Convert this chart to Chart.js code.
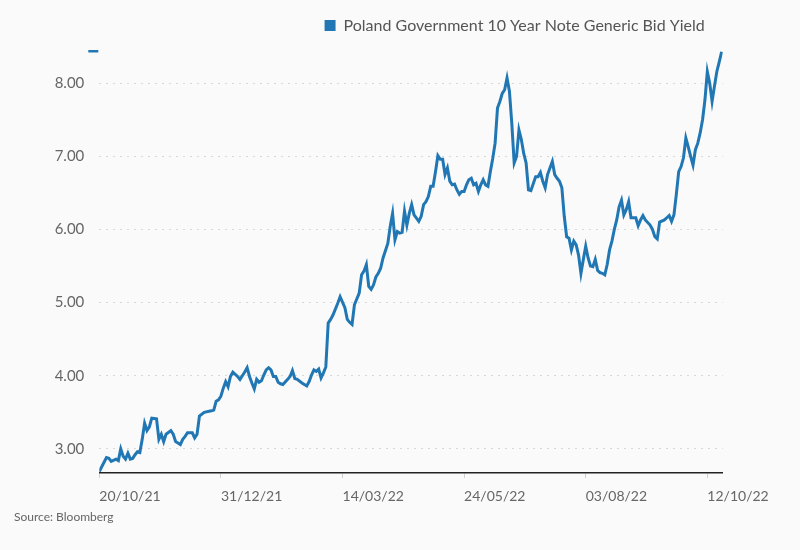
<!DOCTYPE html>
<html>
<head>
<meta charset="utf-8">
<script src="https://cdn.jsdelivr.net/npm/chart.js@4.4.0/dist/chart.umd.min.js"></script>
<style>
html,body{margin:0;padding:0;background:#fafafa;}
#wrap{width:800px;height:550px;position:relative;}
</style>
</head>
<body>
<div id="wrap"><canvas id="c"></canvas></div>
<script>
// Trading-day index (from 20/10/21) and yield values
const xIdx = [0,3,4,5,7,8,9,10,11,12,13,14,15,16,17,18,19,20,21,22,24,25,26,27,28,30,31,32,34,35,36,37,39,40,41,42,44,47,48,49,50,51,52,53,54,55,56,58,59,61,62,63,64,65,66,67,68,69,70,71,72,73,74,75,76,77,79,80,81,82,83,85,87,88,89,90,91,92,93,94,95,96,97,98,100,101,103,104,105,106,107,109,110,111,112,113,114,115,116,117,118,119,121,122,123,124,125,126,127,128,129,130,131,132,134,135,136,137,138,139,140,141,142,143,144,145,146,147,148,149,150,151,152,153,154,155,156,157,158,159,160,161,162,163,164,165,166,167,168,169,170,171,172,173,174,175,176,177,178,179,180,181,183,184,185,186,187,188,189,190,191,192,193,194,195,196,197,198,199,200,201,202,203,204,205,206,207,208,209,210,211,212,213,214,215,216,217,218,219,220,221,222,223,225,226,227,228,229,231,232,233,234,235,237,238,239,240,241,242,243,244,245,246,247,248,249,250,251,252,253,254,255,256,257,258,259,260,261];
const yields = [2.69,2.88,2.87,2.83,2.86,2.84,3.00,2.90,2.86,2.94,2.86,2.87,2.92,2.96,2.95,3.13,3.35,3.25,3.30,3.42,3.41,3.13,3.20,3.10,3.20,3.25,3.20,3.10,3.06,3.13,3.17,3.22,3.22,3.15,3.20,3.45,3.50,3.52,3.53,3.65,3.67,3.72,3.83,3.92,3.85,3.99,4.05,3.99,3.95,4.05,4.11,3.99,3.90,3.82,3.95,3.91,3.93,4.01,4.08,4.11,4.08,3.99,3.99,3.91,3.89,3.88,3.95,3.99,4.07,3.96,3.95,3.90,3.86,3.92,4.01,4.08,4.06,4.09,3.97,4.04,4.12,4.72,4.77,4.83,4.99,5.08,4.93,4.77,4.73,4.70,4.97,5.13,5.38,5.43,5.52,5.22,5.18,5.24,5.35,5.40,5.47,5.61,5.81,6.04,6.22,5.86,5.97,5.95,5.96,6.25,6.06,6.22,6.34,6.20,6.11,6.18,6.34,6.38,6.45,6.59,6.59,6.79,7.01,6.96,6.96,6.75,6.84,6.66,6.61,6.62,6.54,6.48,6.52,6.52,6.61,6.68,6.70,6.61,6.63,6.52,6.61,6.68,6.61,6.59,6.79,6.97,7.18,7.66,7.75,7.86,7.91,8.07,7.89,7.45,6.91,7.00,7.36,7.23,7.04,6.91,6.54,6.53,6.72,6.72,6.78,6.66,6.57,6.75,6.84,6.93,6.75,6.70,6.66,6.57,6.18,5.90,5.88,5.72,5.84,5.79,5.65,5.40,5.59,5.77,5.61,5.50,5.49,5.59,5.44,5.41,5.40,5.38,5.52,5.72,5.84,6.00,6.13,6.31,6.40,6.20,6.27,6.38,6.16,6.16,6.05,6.13,6.19,6.13,6.06,6.00,5.90,5.87,6.10,6.13,6.16,6.19,6.11,6.20,6.48,6.79,6.86,6.98,7.25,7.13,7.00,6.88,7.09,7.18,7.32,7.50,7.77,8.16,8.00,7.75,7.96,8.16,8.29,8.43];
const tickIdx = [0,51,102,153,204,255];
const tickLabels = ['20/10/21','31/12/21','14/03/22','24/05/22','03/08/22','12/10/22'];
const yTickValues = [3,4,5,6,7,8];
const seriesName = 'Poland Government 10 Year Note Generic Bid Yield';
const sourceText = 'Source: Bloomberg';

const BLUE = '#2077b4';
const FONT = 'Lato, "Open Sans", sans-serif';

const bgPlugin = {
  id: 'bg',
  beforeDraw(chart) {
    const ctx = chart.ctx;
    ctx.save();
    ctx.fillStyle = '#fafafa';
    ctx.fillRect(0, 0, chart.width, chart.height);
    ctx.restore();
  }
};
const legendTweak = {
  id: 'legendTweak',
  beforeUpdate(chart) {
    const lg = chart.legend;
    if (lg && !lg._patched) {
      const f = lg.fit;
      lg.fit = function () { f.call(this); this.height += 7.5; };
      const d = lg.draw;
      lg.draw = function () { const r = this.right; this.right = r - 8; d.call(this); this.right = r; };
      lg._patched = true;
    }
  }
};
const topMark = {
  id: 'topMark',
  afterDraw(chart) {
    const ctx = chart.ctx, y = chart.scales.y, a = chart.chartArea;
    ctx.save();
    ctx.fillStyle = BLUE;
    ctx.fillRect(a.left - 11, y.getPixelForValue(y.max) - 1, 10, 2.5);
    ctx.restore();
  }
};

new Chart(document.getElementById('c'), {
  type: 'line',
  data: {
    datasets: [{
      label: seriesName,
      data: xIdx.map((x, i) => ({ x: x, y: yields[i] })),
      borderColor: BLUE,
      backgroundColor: BLUE,
      borderWidth: 3,
      pointRadius: 0,
      tension: 0,
      fill: false
    }]
  },
  options: {
    responsive: true,
    maintainAspectRatio: false,
    animation: false,
    layout: { padding: { left: 14, right: 77.3, top: 7.5, bottom: 25.8 } },
    scales: {
      x: {
        type: 'linear',
        min: 0,
        max: 261.45,
        afterBuildTicks: s => { s.ticks = tickIdx.map(v => ({ value: v })); },
        afterFit: s => { s.height = 36.8; },
        ticks: {
          autoSkip: false, maxRotation: 0, minRotation: 0, align: 'start', padding: 10,
          color: '#666', font: { family: FONT, size: 14 },
          callback: v => tickLabels[tickIdx.indexOf(v)]
        },
        grid: { drawOnChartArea: false, drawTicks: true, tickLength: 5, color: '#d0d0d0' },
        border: { display: true, color: '#222', width: 1.5 }
      },
      y: {
        type: 'linear',
        min: 2.67,
        max: 8.44,
        afterBuildTicks: s => { s.ticks = yTickValues.map(v => ({ value: v })); },
        afterFit: s => { s.width = 85.3; },
        ticks: { padding: 15, color: '#666', font: { family: FONT, size: 15 }, callback: v => Number(v).toFixed(2) },
        grid: { drawTicks: false, color: '#d8d8d8', lineWidth: 1 },
        border: { display: false, dash: [2, 5] }
      }
    },
    plugins: {
      legend: {
        position: 'top',
        align: 'end',
        labels: {
          boxWidth: 11, boxHeight: 11, padding: 10, color: '#555',
          font: { family: FONT, size: 16 },
          generateLabels: chart => Chart.defaults.plugins.legend.labels.generateLabels(chart).map(l => Object.assign(l, { lineWidth: 0, fillStyle: BLUE, strokeStyle: BLUE }))
        }
      },
      title: {
        display: true, text: sourceText, position: 'bottom', align: 'start',
        color: '#666', font: { family: FONT, size: 12, weight: 'normal' },
        padding: { top: 0, bottom: 0 }
      },
      tooltip: { enabled: false }
    }
  },
  plugins: [bgPlugin, legendTweak, topMark]
});
</script>
</body>
</html>
